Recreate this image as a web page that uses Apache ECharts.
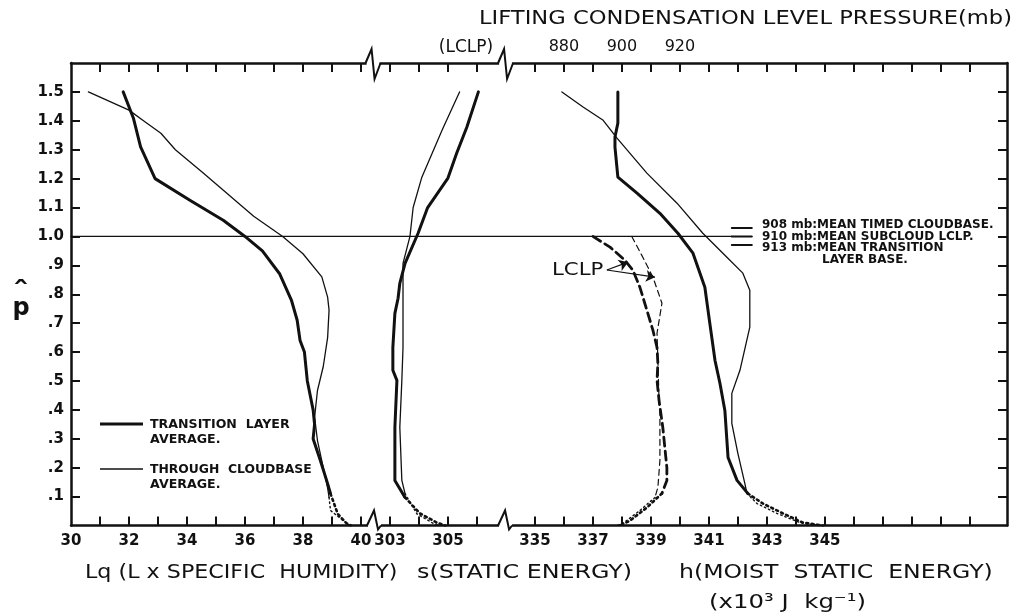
<!DOCTYPE html>
<html><head><meta charset="utf-8">
<script src="https://cdn.jsdelivr.net/npm/echarts@6/dist/echarts.min.js"></script>
<style>html,body{margin:0;padding:0;background:#fff}#c{width:1025px;height:616px}</style>
</head><body><div id="c"></div>
<script>
// ---------- DATA (value, p-hat) ----------
// Lq  (x10^3 J/kg)
const lqTransition    = [[31.8,1.50],[32.15,1.41],[32.4,1.31],[32.9,1.20],[34.1,1.125],[35.25,1.056],[36.0,1.0],[36.6,0.95],[37.2,0.87],[37.6,0.78],[37.8,0.71],[37.9,0.64],[38.05,0.60],[38.15,0.50],[38.35,0.40],[38.4,0.35],[38.35,0.30],[38.6,0.225],[38.85,0.145],[38.95,0.11]];
const lqTransitionSfc = [[38.95,0.11],[39.2,0.04],[39.5,0.008],[39.65,0]];
const lqCloudbase     = [[30.6,1.50],[32.0,1.437],[32.5,1.40],[33.1,1.357],[33.6,1.30],[34.55,1.22],[36.3,1.07],[37.3,1.0],[38.0,0.94],[38.65,0.86],[38.85,0.79],[38.9,0.745],[38.85,0.65],[38.7,0.55],[38.5,0.467],[38.4,0.374],[38.5,0.294],[38.7,0.20],[38.85,0.13],[38.9,0.097]];
const lqCloudbaseSfc  = [[38.9,0.097],[38.95,0.052],[39.3,0.024],[39.6,0]];
// s (static energy)
const sTransition     = [[306.05,1.5],[305.65,1.378],[305.3,1.288],[305.0,1.202],[304.3,1.10],[303.97,1.011],[303.52,0.907],[303.34,0.838],[303.28,0.786],[303.17,0.734],[303.1,0.616],[303.1,0.537],[303.24,0.502],[303.17,0.34],[303.17,0.156],[303.52,0.097]];
const sTransitionSfc  = [[303.52,0.097],[304.03,0.042],[304.62,0.01],[304.9,0]];
const sCloudbase      = [[305.4,1.5],[304.8,1.368],[304.1,1.205],[303.8,1.10],[303.69,1.0],[303.45,0.907],[303.45,0.803],[303.45,0.616],[303.41,0.502],[303.34,0.34],[303.41,0.156],[303.52,0.11]];
const sCloudbaseSfc   = [[303.52,0.11],[303.93,0.04],[304.48,0.008],[304.7,0]];
// h (moist static energy)
const hTransition     = [[337.86,1.5],[337.86,1.392],[337.76,1.344],[337.76,1.309],[337.86,1.205],[338.52,1.15],[339.31,1.08],[339.93,1.011],[340.45,0.942],[340.86,0.824],[341.03,0.70],[341.21,0.571],[341.38,0.492],[341.55,0.398],[341.66,0.235],[341.97,0.156],[342.34,0.111]];
const hTransitionSfc  = [[342.34,0.111],[342.86,0.076],[343.55,0.042],[344.24,0.01],[344.93,0]];
const hCloudbase      = [[335.93,1.5],[336.66,1.448],[337.34,1.403],[337.83,1.34],[338.86,1.219],[339.9,1.115],[340.79,1.011],[341.62,0.928],[342.17,0.873],[342.41,0.814],[342.41,0.686],[342.07,0.537],[341.79,0.457],[341.79,0.353],[342.0,0.249],[342.24,0.145],[342.31,0.111]];
const hCloudbaseSfc   = [[342.31,0.111],[342.66,0.076],[343.34,0.042],[344.14,0.01],[344.83,0]];
// LCLP (mb)
const lclpTransition    = [[890.0,1.0],[895.9,0.963],[901.0,0.918],[903.8,0.883],[906.2,0.824],[908.6,0.745],[910.7,0.675],[912.1,0.616],[912.4,0.561],[912.1,0.502],[912.8,0.433],[914.1,0.339],[915.5,0.20],[915.5,0.156],[913.8,0.111]];
const lclpTransitionSfc = [[913.8,0.111],[908.6,0.062],[902.8,0.017],[899.3,0]];
const lclpCloudbase     = [[903.4,1.0],[907.2,0.928],[910.7,0.859],[913.8,0.769],[912.1,0.665],[912.4,0.571],[912.8,0.433],[913.1,0.388],[913.1,0.225],[912.4,0.132],[911.4,0.097]];
const lclpCloudbaseSfc  = [[911.4,0.097],[906.2,0.052],[900.3,0.007],[898.3,0]];
const lclpArrows = [[[894.8,0.884],[902.1,0.911]],[[894.8,0.884],[911.4,0.859]]];
// tick labels
const lqLabels = [30,32,34,36,38,40];
const sLabels = [303,305];
const hLabels = [335,337,339,341,343,345];
const lclpLabels = [880,900,920];
const pLabels = [0.1,0.2,0.3,0.4,0.5,0.6,0.7,0.8,0.9,1.0,1.1,1.2,1.3,1.4,1.5];
const cloudbaseMarks = [[1.029,'908 mb:MEAN TIMED CLOUDBASE.'],[1.0,'910 mb:MEAN SUBCLOUD LCLP.'],[0.970,'913 mb:MEAN TRANSITION']];

// ---------- LAYOUT ----------
const U = 32.28;          // frame width in tick units
const LCLP_PER_U = 10, LCLP_MIN = 710;
const INK = '#111';
const range = (a,b)=>{const r=[];for(let i=a;i<=b;i++)r.push(i);return r;};
const F = "'DejaVu Sans', sans-serif";
const numLabel = {color:INK, fontFamily:F, fontWeight:'bold', fontSize:15};

const chart = echarts.init(document.getElementById('c'), null, {renderer:'canvas'});
function lineS(data, axis, width, type){
  return {type:'line', xAxisIndex:axis, data, symbol:'none', showSymbol:false, silent:true,
    lineStyle:{color:INK, width, type:type||'solid', cap:'round', join:'round'}, z:3};
}
const option = {
  animation:false, backgroundColor:'#fff',
  grid:{left:71, top:63, width:936, height:462.5, containLabel:false},
  xAxis:[
    {type:'value', position:'bottom', min:30, max:30+U, splitLine:{show:false},
      axisLine:{show:true, lineStyle:{color:INK, width:2.5}},
      axisTick:{show:true, inside:true, length:9, lineStyle:{color:INK,width:2}, customValues:range(31,40)},
      axisLabel:{show:true, margin:8, customValues:lqLabels, ...numLabel}},
    {type:'value', position:'bottom', min:292, max:292+U, splitLine:{show:false}, axisLine:{show:false},
      axisTick:{show:true, inside:true, length:9, lineStyle:{color:INK,width:2}, customValues:range(303,306)},
      axisLabel:{show:true, margin:8, customValues:sLabels, ...numLabel}},
    {type:'value', position:'bottom', min:319, max:319+U, splitLine:{show:false}, axisLine:{show:false},
      axisTick:{show:true, inside:true, length:9, lineStyle:{color:INK,width:2}, customValues:range(335,350)},
      axisLabel:{show:true, margin:8, customValues:hLabels, ...numLabel}},
    {type:'value', position:'top', min:LCLP_MIN, max:LCLP_MIN+LCLP_PER_U*U, splitLine:{show:false}, axisLine:{show:false},
      axisTick:{show:false}, axisLabel:{show:true, margin:8, customValues:lclpLabels, ...numLabel, fontWeight:'normal', fontSize:16}},
    {type:'value', position:'top', min:0, max:U, splitLine:{show:false},
      axisLine:{show:true, lineStyle:{color:INK, width:2.5}},
      axisTick:{show:true, inside:true, length:9, lineStyle:{color:INK,width:2}, customValues:range(1,14).concat(range(16,31))},
      axisLabel:{show:false}}
  ],
  yAxis:[
    {type:'value', position:'left', min:0, max:1.6, splitLine:{show:false},
      axisLine:{show:true, lineStyle:{color:INK,width:2.5}},
      axisTick:{show:true, inside:true, length:9, lineStyle:{color:INK,width:2}, customValues:pLabels},
      axisLabel:{show:true, margin:7, customValues:pLabels, ...numLabel,
        formatter:v=> v>=0.95 ? v.toFixed(1) : '.'+Math.round(v*10)}},
    {type:'value', position:'right', min:0, max:1.6, splitLine:{show:false},
      axisLine:{show:true, lineStyle:{color:INK,width:2.5}},
      axisTick:{show:true, inside:true, length:9, lineStyle:{color:INK,width:2}, customValues:pLabels},
      axisLabel:{show:false}}
  ],
  series:[
    lineS(lqTransition,0,3), lineS(lqTransitionSfc,0,2.6,[2,3.5]),
    lineS(lqCloudbase,0,1.3), lineS(lqCloudbaseSfc,0,1.4,[1.5,3]),
    lineS(sTransition,1,3), lineS(sTransitionSfc,1,2.6,[2,3.5]),
    lineS(sCloudbase,1,1.3), lineS(sCloudbaseSfc,1,1.4,[1.5,3]),
    lineS(hTransition,2,3), lineS(hTransitionSfc,2,2.6,[2,3.5]),
    lineS(hCloudbase,2,1.3), lineS(hCloudbaseSfc,2,1.4,[1.5,3]),
    lineS(lclpTransition,3,2.8,[9,5]), lineS(lclpTransitionSfc,3,2.6,[2,3.5]),
    lineS(lclpCloudbase,3,1.2,[6,4]), lineS(lclpCloudbaseSfc,3,1.4,[1.5,3]),
    lineS([[0,1.0],[22.79,1.0]],4,1.3),
    ...cloudbaseMarks.map(m=>lineS([[22.79,m[0]],[23.48,m[0]]],4,2)),
    {type:'lines', coordinateSystem:'cartesian2d', xAxisIndex:3, silent:true,
      symbol:['none','arrow'], symbolSize:[0,9],
      lineStyle:{color:INK, width:1.2, opacity:1},
      data:lclpArrows.map(c=>({coords:c}))}
  ]
};
chart.setOption(option);

// ---------- decorations (text, legend, axis breaks) ----------
const g = [];
const text = (x,y,t,size,opt)=>{opt=opt||{}; g.push({type:'text', x, y, silent:true, z:10,
  scaleX:opt.sx||1, scaleY:1,
  style:{text:t, fill:INK, font:(opt.weight||'normal')+' '+size+'px '+F,
    textAlign:opt.align||'left', textVerticalAlign:'middle'}});};
const X = u=>chart.convertToPixel({xAxisIndex:4}, u);
const Y = p=>chart.convertToPixel({yAxisIndex:0}, p);
const yTop = Y(1.6), yBot = Y(0);

// breaks
[[10.45,'b'],[14.97,'b'],[10.4,'t'],[14.97,'t']].forEach(([u,w])=>{
  const x = X(u), yy = w==='b'?yBot:yTop;
  g.push({type:'rect', silent:true, z:20, shape:{x:x-6, y:yy-3, width:13, height:6}, style:{fill:'#fff'}});
  const pts = w==='b'
    ? [[x-7,yy],[x,yy-15],[x+4,yy+4],[x+7,yy]]
    : [[x-7,yy],[x-1,yy-14],[x+2,yy+16],[x+8,yy]];
  g.push({type:'polyline', silent:true, z:21, shape:{points:pts}, style:{stroke:INK, lineWidth:2, fill:null}});
});

// titles
text(1012, 19, 'LIFTING CONDENSATION LEVEL PRESSURE(mb)', 20, {align:'right', sx:1.13});
text(466, 48, '(LCLP)', 17, {align:'center'});
text(85, 573, 'Lq (L x SPECIFIC  HUMIDITY)', 20, {sx:1.11});
text(417, 573, 's(STATIC ENERGY)', 20, {sx:1.19});
text(679, 573, 'h(MOIST  STATIC  ENERGY)', 20, {sx:1.18});
text(709, 603, '(x10³ J  kg⁻¹)', 20, {sx:1.22});
// y name
text(21, 309, 'p', 24, {align:'center', weight:'bold'});
text(21, 294, 'ˆ', 26, {align:'center', weight:'bold', sx:1.3});
// legend
g.push({type:'line', silent:true, z:10, shape:{x1:100,y1:424,x2:143,y2:424}, style:{stroke:INK, lineWidth:3}});
text(150, 425, 'TRANSITION  LAYER', 12, {weight:'bold', sx:1.05});
text(150, 440, 'AVERAGE.', 12, {weight:'bold', sx:1.05});
g.push({type:'line', silent:true, z:10, shape:{x1:100,y1:469,x2:143,y2:469}, style:{stroke:INK, lineWidth:1.3}});
text(150, 470, 'THROUGH  CLOUDBASE', 12, {weight:'bold', sx:1.03});
text(150, 485, 'AVERAGE.', 12, {weight:'bold', sx:1.05});
// cloudbase annotations
const annY = [225, 236.5, 248];
cloudbaseMarks.forEach((m,i)=>text(762, annY[i], m[1], 12, {weight:'bold'}));
text(822, 259.5, 'LAYER BASE.', 12, {weight:'bold'});
// LCLP label
text(552, 271, 'LCLP', 17, {sx:1.25});

chart.setOption({graphic:{elements:g}});
</script></body></html>
